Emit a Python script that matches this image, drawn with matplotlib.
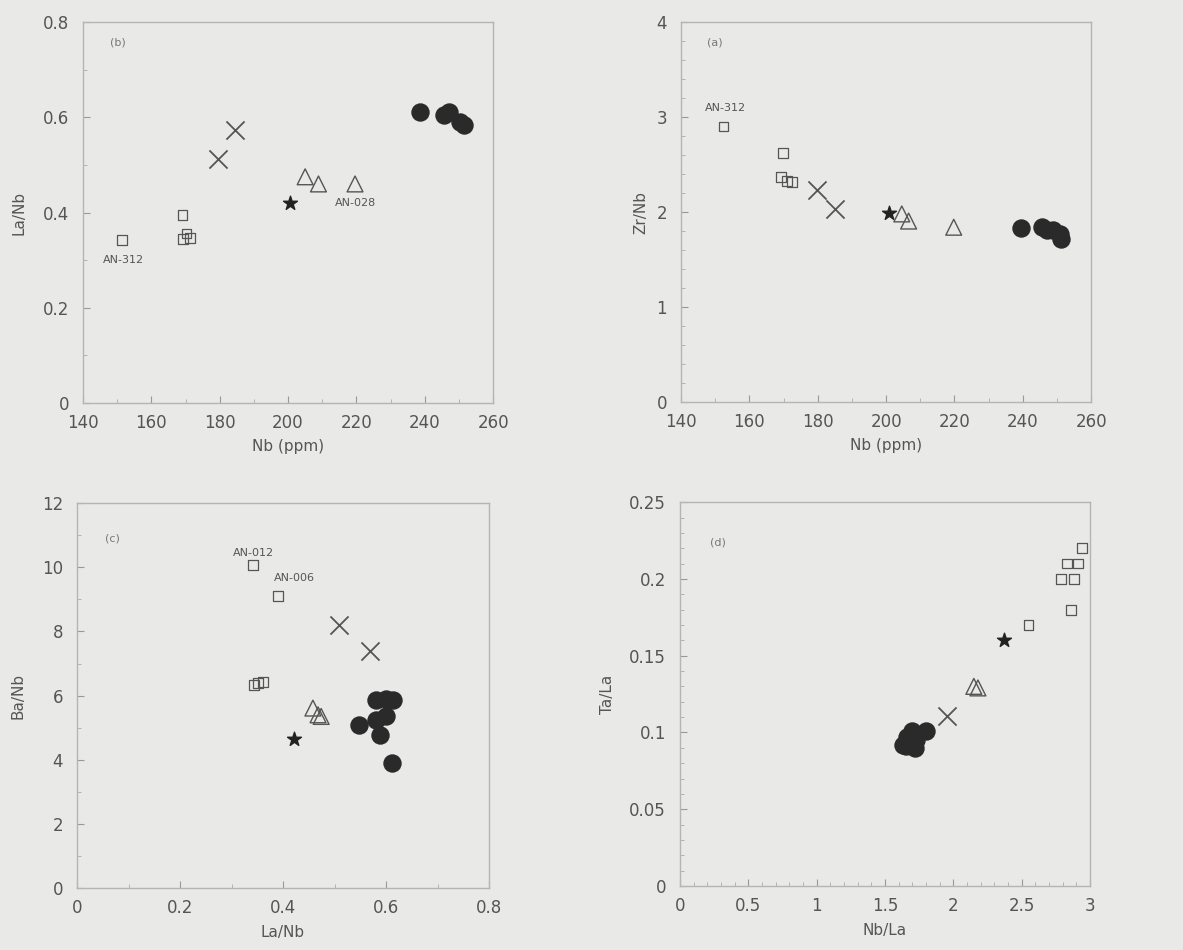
import matplotlib.pyplot as plt
from matplotlib.ticker import MultipleLocator

# panel (a) top-left: La/Nb vs Nb
a_circ_x = [238.5, 245.5, 247, 250.4, 251.4]
a_circ_y = [0.611, 0.604, 0.611, 0.590, 0.583]
a_cross_x = [179.6, 184.5]
a_cross_y = [0.512, 0.573]
a_star_x = [200.6]
a_star_y = [0.421]
a_tri_x = [205, 208.9, 219.6]
a_tri_y = [0.475, 0.460, 0.460]
a_sq_x = [151.5, 169.1, 170.3, 169.3, 171.3]
a_sq_y = [0.343, 0.394, 0.356, 0.345, 0.347]

# panel (b) top-right: Zr/Nb vs Nb
b_circ_x = [239.5, 245.6, 247, 249, 251, 251.2]
b_circ_y = [1.83, 1.84, 1.81, 1.81, 1.77, 1.72]
b_cross_x = [179.8, 185.1]
b_cross_y = [2.235, 2.035]
b_star_x = [201]
b_star_y = [1.99]
b_tri_x = [204.6, 206.6, 219.8]
b_tri_y = [1.98, 1.905, 1.84]
b_sq_x = [152.4, 169.8, 169.2, 171, 172.4]
b_sq_y = [2.90, 2.62, 2.37, 2.33, 2.32]

# panel (c) bottom-left: Ba/Nb vs La/Nb
c_circ_x = [0.548, 0.581, 0.600, 0.614, 0.600, 0.581, 0.588, 0.612]
c_circ_y = [5.09, 5.87, 5.90, 5.85, 5.35, 5.25, 4.77, 3.90]
c_cross_x = [0.509, 0.568]
c_cross_y = [8.19, 7.38]
c_star_x = [0.421]
c_star_y = [4.64]
c_tri_x = [0.458, 0.468, 0.474]
c_tri_y = [5.61, 5.40, 5.35]
c_sq_x = [0.342, 0.390, 0.343, 0.352, 0.361]
c_sq_y = [10.08, 9.11, 6.32, 6.38, 6.43]

# panel (d) bottom-right: Ta/La vs Nb/La
d_circ_x = [1.66, 1.70, 1.80, 1.65, 1.72, 1.73, 1.63]
d_circ_y = [0.097, 0.101, 0.101, 0.091, 0.090, 0.095, 0.092]
d_cross_x = [1.95]
d_cross_y = [0.111]
d_star_x = [2.37]
d_star_y = [0.160]
d_tri_x = [2.15, 2.18]
d_tri_y = [0.130, 0.129]
d_sq_x = [2.94, 2.83, 2.91, 2.79, 2.88, 2.86, 2.55]
d_sq_y = [0.22, 0.21, 0.21, 0.20, 0.20, 0.18, 0.17]

bg = '#e9e9e8'
txt = '#555555'

fig = plt.figure(figsize=(11.83, 9.5), dpi=100, facecolor=bg)

positions = [[0.0702, 0.5758, 0.3466, 0.401],
             [0.5757, 0.5768, 0.3466, 0.400],
             [0.0651, 0.0653, 0.3483, 0.405],
             [0.5748, 0.0674, 0.3466, 0.404]]

panels = [
    (a_circ_x, a_circ_y, a_cross_x, a_cross_y, a_star_x, a_star_y, a_tri_x, a_tri_y, a_sq_x, a_sq_y),
    (b_circ_x, b_circ_y, b_cross_x, b_cross_y, b_star_x, b_star_y, b_tri_x, b_tri_y, b_sq_x, b_sq_y),
    (c_circ_x, c_circ_y, c_cross_x, c_cross_y, c_star_x, c_star_y, c_tri_x, c_tri_y, c_sq_x, c_sq_y),
    (d_circ_x, d_circ_y, d_cross_x, d_cross_y, d_star_x, d_star_y, d_tri_x, d_tri_y, d_sq_x, d_sq_y),
]

axes = []
for pos, p in zip(positions, panels):
    ax = fig.add_axes(pos)
    ax.set_facecolor(bg)
    cx, cy, xx, xy, sx, sy, tx, ty, qx, qy = p
    ax.scatter(cx, cy, s=150, c='#2a2a2a', marker='o', zorder=3)
    ax.scatter(xx, xy, s=170, c='#555555', marker='x', linewidths=1.3, zorder=3)
    ax.scatter(sx, sy, s=110, c='#222222', marker='*', zorder=3)
    ax.scatter(tx, ty, s=130, facecolors='none', edgecolors='#555555', marker='^', linewidths=1.0, zorder=3)
    ax.scatter(qx, qy, s=50, facecolors='none', edgecolors='#555555', marker='s', linewidths=0.9, zorder=3)
    for sp in ax.spines.values():
        sp.set_color('#b5b5b5')
        sp.set_linewidth(1.0)
    ax.tick_params(colors='#999999', labelcolor=txt, labelsize=12, direction='in', length=5)
    ax.tick_params(axis='x', pad=8)
    ax.tick_params(axis='y', pad=10)
    ax.tick_params(which='minor', colors='#aaaaaa', direction='in', length=3)
    axes.append(ax)

ax1, ax2, ax3, ax4 = axes

ax1.set_xlim(140, 260)
ax1.set_ylim(0, 0.8)
ax1.xaxis.set_major_locator(MultipleLocator(20))
ax1.xaxis.set_minor_locator(MultipleLocator(10))
ax1.yaxis.set_minor_locator(MultipleLocator(0.1))
ax1.set_yticks([0, 0.2, 0.4, 0.6, 0.8], ['0', '0.2', '0.4', '0.6', '0.8'])
ax1.set_xlabel('Nb (ppm)', color=txt, fontsize=11, labelpad=5)
ax1.set_ylabel('La/Nb', color=txt, fontsize=11, labelpad=12)
ax1.text(147.8, 0.75, '(b)', fontsize=8, color='#777777')
ax1.text(151.7, 0.30, 'AN-312', fontsize=8, color=txt, ha='center', va='center')
ax1.text(219.6, 0.42, 'AN-028', fontsize=8, color=txt, ha='center', va='center')

ax2.set_xlim(140, 260)
ax2.set_ylim(0, 4)
ax2.xaxis.set_major_locator(MultipleLocator(20))
ax2.xaxis.set_minor_locator(MultipleLocator(10))
ax2.yaxis.set_major_locator(MultipleLocator(1))
ax2.yaxis.set_minor_locator(MultipleLocator(0.2))
ax2.set_xlabel('Nb (ppm)', color=txt, fontsize=11, labelpad=5)
ax2.set_ylabel('Zr/Nb', color=txt, fontsize=11, labelpad=6)
ax2.text(147.5, 3.75, '(a)', fontsize=8, color='#777777')
ax2.text(152.9, 3.09, 'AN-312', fontsize=8, color=txt, ha='center', va='center')

ax3.set_xlim(0, 0.8)
ax3.set_ylim(0, 12)
ax3.xaxis.set_minor_locator(MultipleLocator(0.1))
ax3.yaxis.set_major_locator(MultipleLocator(2))
ax3.yaxis.set_minor_locator(MultipleLocator(1))
ax3.set_xticks([0, 0.2, 0.4, 0.6, 0.8], ['0', '0.2', '0.4', '0.6', '0.8'])
ax3.set_xlabel('La/Nb', color=txt, fontsize=11, labelpad=6)
ax3.set_ylabel('Ba/Nb', color=txt, fontsize=11, labelpad=12)
ax3.text(0.055, 10.8, '(c)', fontsize=8, color='#777777')
ax3.text(0.342, 10.45, 'AN-012', fontsize=8, color=txt, ha='center', va='center')
ax3.text(0.423, 9.66, 'AN-006', fontsize=8, color=txt, ha='center', va='center')

ax4.set_xlim(0, 3)
ax4.set_ylim(0, 0.25)
ax4.xaxis.set_minor_locator(MultipleLocator(0.1))
ax4.yaxis.set_minor_locator(MultipleLocator(0.01))
ax4.set_xticks([0, 0.5, 1, 1.5, 2, 2.5, 3], ['0', '0.5', '1', '1.5', '2', '2.5', '3'])
ax4.set_yticks([0, 0.05, 0.1, 0.15, 0.2, 0.25], ['0', '0.05', '0.1', '0.15', '0.2', '0.25'])
ax4.set_xlabel('Nb/La', color=txt, fontsize=11, labelpad=6)
ax4.set_ylabel('Ta/La', color=txt, fontsize=11, labelpad=10)
ax4.text(0.22, 0.222, '(d)', fontsize=8, color='#777777')

fig.savefig('out.png', dpi=100, facecolor=bg)
